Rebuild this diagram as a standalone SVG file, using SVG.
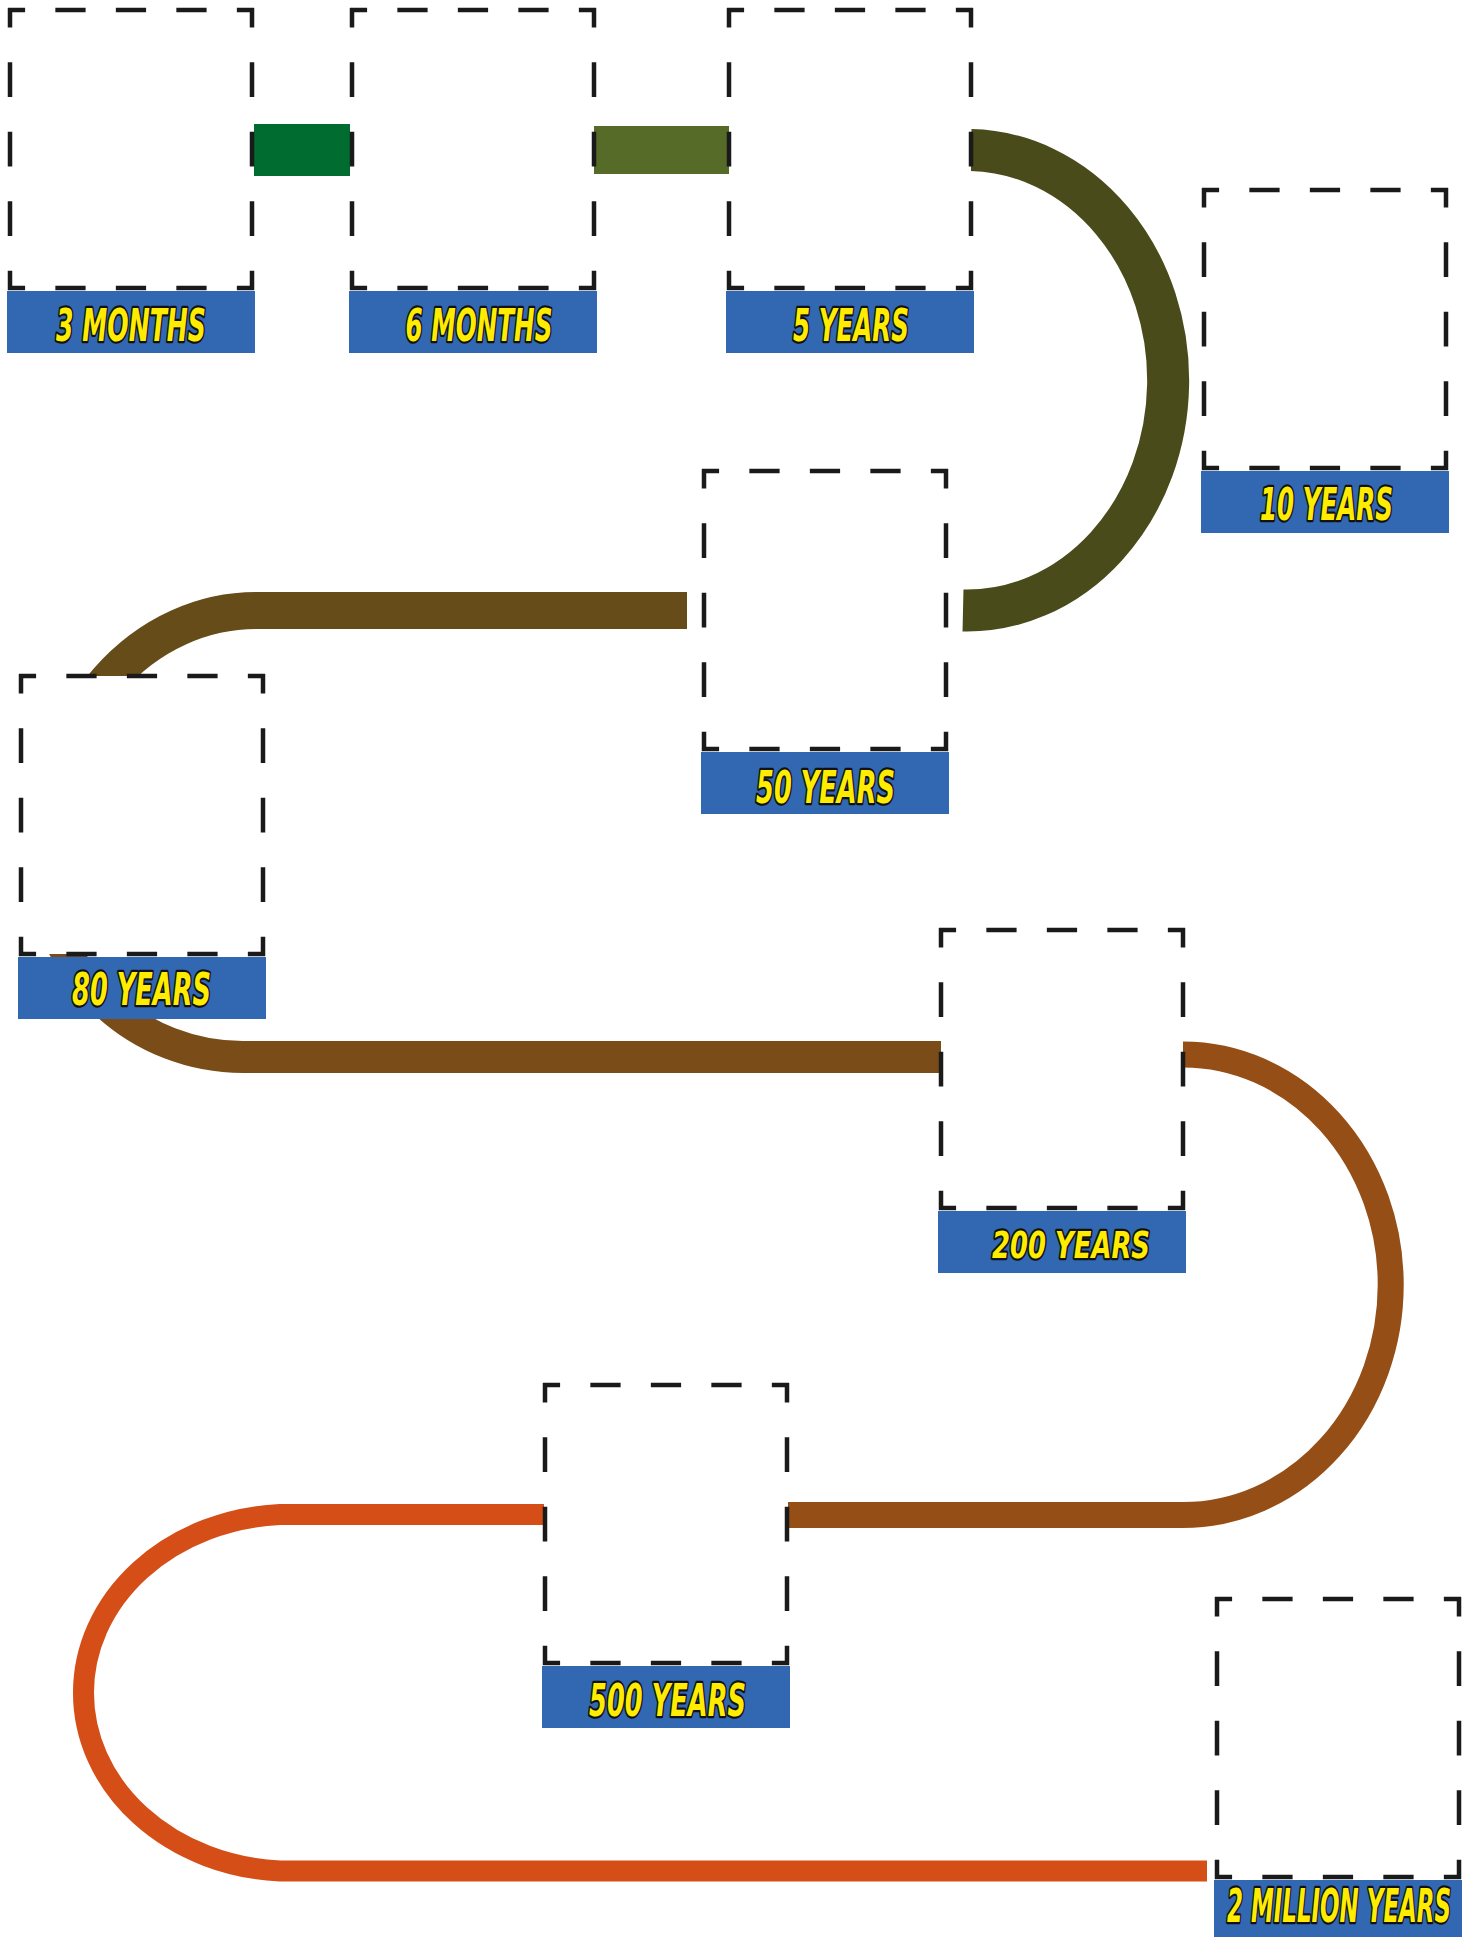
<svg xmlns="http://www.w3.org/2000/svg" xmlns:xlink="http://www.w3.org/1999/xlink" width="1473" height="1937" viewBox="0 0 1473 1937">
<style>
.hd{fill:none;stroke:#1a1a1a;stroke-width:4.5;stroke-dasharray:30.25 30.25;stroke-dashoffset:13.15}
.vd{fill:none;stroke:#1a1a1a;stroke-width:4.5;stroke-dasharray:34.75 34.75;stroke-dashoffset:15.35}
.lblbg{fill:#3267b2}
.lbl{font-family:"DejaVu Sans","Liberation Sans",Arial,sans-serif;font-weight:bold;font-style:italic;font-size:44px;fill:#ffec00;stroke:#111;stroke-width:4.5;paint-order:stroke;stroke-linejoin:round;text-anchor:middle}
.c{fill:none;stroke-linecap:butt}
</style>
<defs>
<g id="box">
<rect x="0" y="0" width="242" height="278" fill="#fff"/>
<path class="hd" d="M-2 0H244M-2 278H244"/>
<path class="vd" d="M0 -2V280M242 -2V280"/>
<rect class="lblbg" x="-3" y="281" width="248" height="62"/>
</g>
</defs>
<rect width="1473" height="1937" fill="#fff"/>
<g id="connectors">
<path class="c" d="M254 150H350" stroke="#006c2f" stroke-width="52"/>
<path class="c" d="M594 150H729" stroke="#566b28" stroke-width="48"/>
<path class="c" d="M971 150A201 230 0 0 1 963 610.5" stroke="#4a4b1a" stroke-width="42"/>
<path class="c" d="M687 610.5H256A210 240 0 0 0 46 850" stroke="#664c18" stroke-width="37"/>
<path class="c" d="M43 860A200 197 0 0 0 243 1057H941" stroke="#7a4d18" stroke-width="32"/>
<path class="c" d="M1183 1054.5A207.5 230 0 0 1 1183 1515H788" stroke="#954f16" stroke-width="26"/>
<path class="c" d="M544 1514.5H280A207.5 178.5 0 0 0 280 1871H1207" stroke="#d54e18" stroke-width="21"/>
</g>
<g id="n1"><use xlink:href="#box" x="10" y="10"/><text class="lbl" transform="translate(131 341) scale(0.571 1)">3 MONTHS</text></g>
<g id="n2"><use xlink:href="#box" x="352" y="10"/><text class="lbl" transform="translate(479 341) scale(0.56 1)">6 MONTHS</text></g>
<g id="n3"><use xlink:href="#box" x="729" y="10"/><text class="lbl" transform="translate(851 341) scale(0.559 1)">5 YEARS</text></g>
<g id="n4"><use xlink:href="#box" x="1204" y="190"/><text class="lbl" transform="translate(1326.5 520) scale(0.559 1)">10 YEARS</text></g>
<g id="n5"><use xlink:href="#box" x="704" y="471"/><text class="lbl" transform="translate(825.5 803) scale(0.584 1)">50 YEARS</text></g>
<g id="n6"><use xlink:href="#box" x="21" y="676"/><text class="lbl" transform="translate(141.5 1005) scale(0.584 1)">80 YEARS</text></g>
<g id="n7"><use xlink:href="#box" x="941" y="930"/><text class="lbl" transform="translate(1071 1258) scale(0.681 1)" style="font-size:38px">200 YEARS</text></g>
<g id="n8"><use xlink:href="#box" x="545" y="1385"/><text class="lbl" transform="translate(667.5 1716) scale(0.584 1)">500 YEARS</text></g>
<g id="n9"><use xlink:href="#box" x="1217" y="1599"/><text class="lbl" transform="translate(1339 1922) scale(0.499 1)" style="font-size:46px">2 MILLION YEARS</text></g>
</svg>
